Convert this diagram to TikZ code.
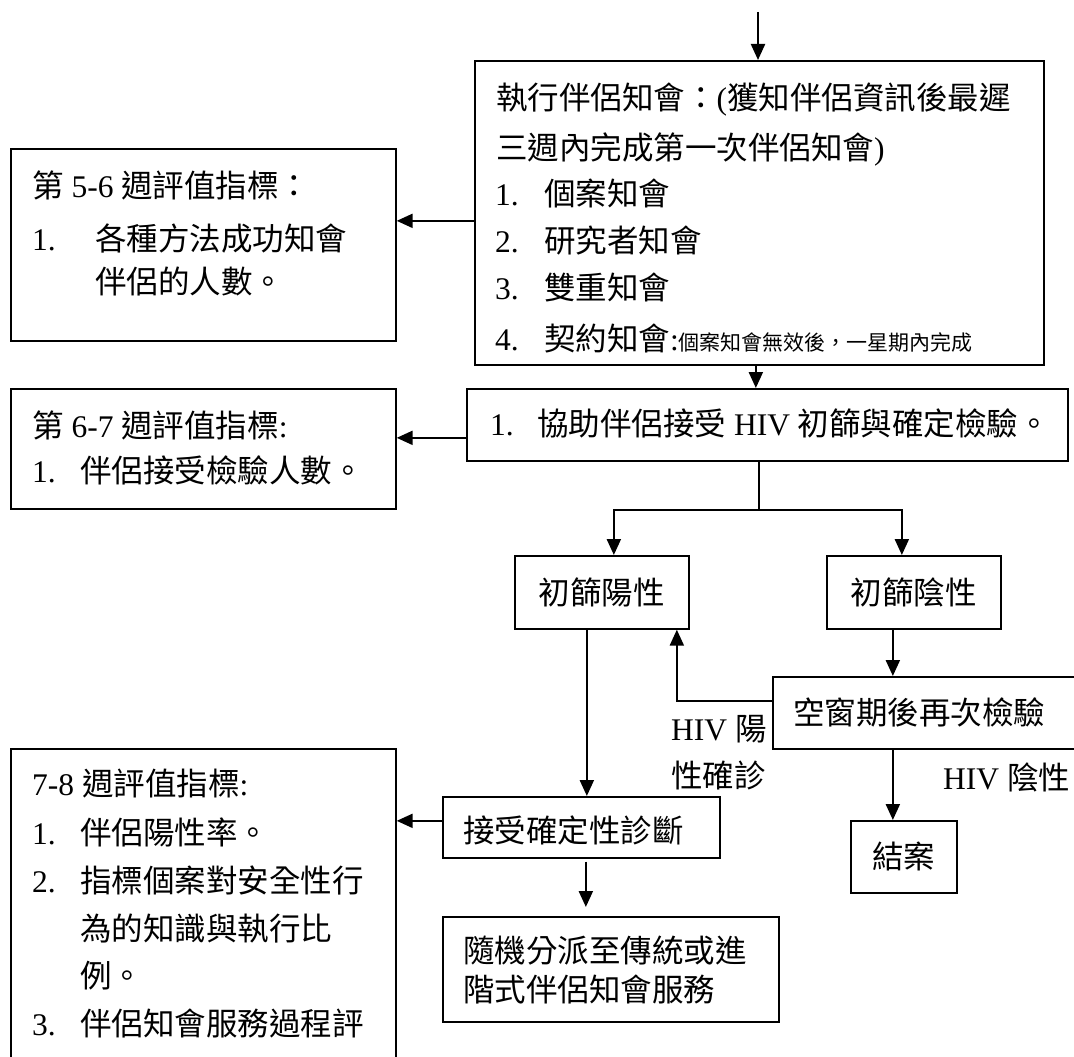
\documentclass[tikz,border=0pt]{standalone}
\usepackage{fontspec}
\setmainfont{Liberation Serif}
\newfontfamily\cjkfont{Noto Sans CJK TC}
\usetikzlibrary{arrows.meta}
\newcommand\lat[1]{{\rmfamily #1}}
\newcommand\itemno[2]{\makebox[#1][l]{\rmfamily #2}}
\begin{document}
\begin{tikzpicture}[x=1pt,y=-1pt,
  box/.style={draw=black,line width=1.7pt,inner sep=0pt,anchor=north west,
    font=\cjkfont\fontsize{31.5}{36}\selectfont},
  txt/.style={inner sep=0pt,anchor=base west,font=\cjkfont\fontsize{31.5}{36}\selectfont},
  arr/.style={line width=2.2pt,-{Triangle[length=16pt,width=14pt]}},
  link/.style={line width=1.3pt}]
\useasboundingbox (0,0) rectangle (1074,1057);
\fill[white] (0,0) rectangle (1074,1057);
\clip (0,0) rectangle (1074,1057);

% boxes
\node[box,minimum width=569pt,minimum height=304pt] (b1) at (474,60) {};
\node[box,minimum width=601pt,minimum height=72pt] (b2) at (466,388) {};
\node[box,minimum width=385pt,minimum height=192pt] (L1) at (10,148) {};
\node[box,minimum width=385pt,minimum height=120pt] (L2) at (10,388) {};
\node[box,minimum width=385pt,minimum height=340pt] (L3) at (10,748) {};
\node[box,minimum width=174pt,minimum height=73pt] (pos) at (514,555) {初篩陽性};
\node[box,minimum width=174pt,minimum height=73pt] (neg) at (826,555) {初篩陰性};
\node[box,minimum width=318pt,minimum height=72pt] (win) at (772,676) {};
\node[box,minimum width=106pt,minimum height=72pt] (close) at (850,820) {結案};
\node[box,minimum width=277pt,minimum height=61pt] (acc) at (442,796) {};
\node[box,minimum width=336pt,minimum height=105pt] (rand) at (442,916) {};

% texts in box 1
\node[txt] (t1a) at (496,110) {執行伴侶知會：\lat{(}獲知伴侶資訊後最遲};
\node[txt] (t1b) at (496,159) {三週內完成第一次伴侶知會\lat{)}};
\node[txt] (t1c) at (495,205) {\itemno{49pt}{1.}個案知會};
\node[txt] (t1d) at (495,252) {\itemno{49pt}{2.}研究者知會};
\node[txt] (t1e) at (495,299) {\itemno{49pt}{3.}雙重知會};
\node[txt] (t1f) at (495,350) {\itemno{49pt}{4.}契約知會\lat{:}{\fontsize{21}{24}\selectfont 個案知會無效後，一星期內完成}};
% box 2
\node[txt] (t2) at (490,435) {\itemno{47pt}{1.}協助伴侶接受\lat{\ HIV\ }初篩與確定檢驗。};
% left boxes
\node[txt] (tL1a) at (32,197) {第\lat{\ 5-6\ }週評值指標：};
\node[txt] (tL1b) at (32,250) {\itemno{63pt}{1.}各種方法成功知會};
\node[txt] (tL1c) at (95,293) {伴侶的人數。};
\node[txt] (tL2a) at (32,437) {第\lat{\ 6-7\ }週評值指標\lat{:}};
\node[txt] (tL2b) at (32,482) {\itemno{48pt}{1.}伴侶接受檢驗人數。};
\node[txt] (tL3a) at (32,795) {\lat{7-8\ }週評值指標\lat{:}};
\node[txt] (tL3b) at (32,844) {\itemno{48pt}{1.}伴侶陽性率。};
\node[txt] (tL3c) at (32,892) {\itemno{48pt}{2.}指標個案對安全性行};
\node[txt] (tL3d) at (80,940) {為的知識與執行比};
\node[txt] (tL3e) at (80,987) {例。};
\node[txt] (tL3f) at (32,1035) {\itemno{48pt}{3.}伴侶知會服務過程評};
% other boxes
\node[txt] (twin) at (793,724) {空窗期後再次檢驗};
\node[txt] (tacc) at (463,842) {接受確定性診斷};
\node[txt] (trand1) at (463,962) {隨機分派至傳統或進};
\node[txt] (trand2) at (463,1001) {階式伴侶知會服務};
% labels
\node[txt] (lpos1) at (671,740) {\lat{HIV\ }陽};
\node[txt] (lpos2) at (671,787) {性確診};
\node[txt] (lneg) at (943,789) {\lat{HIV\ }陰性};

% connectors
\coordinate (entry) at (758,12);
\draw[arr] (entry) -- (entry |- b1.north);
\coordinate (a12) at ([xshift=-3.5pt]b1.south);
\draw[arr] (a12) -- (a12 |- b2.north);
\coordinate (a1L) at ([yshift=-8pt]b1.west);
\draw[arr] (a1L) -- (a1L -| L1.east);
\coordinate (a2L) at ([yshift=-13pt]b2.west);
\draw[arr] (a2L) -- (a2L -| L2.east);
\coordinate (split) at ([xshift=-8.5pt]b2.south);
\coordinate (fork) at ([yshift=-48pt]split);
\draw[link] (split) -- (fork);
\coordinate (posin) at ([xshift=12pt]pos.north);
\coordinate (negin) at ([xshift=-12pt]neg.north);
\draw[arr] (fork) -| (posin);
\draw[arr] (fork) -| (negin);
\coordinate (nw) at ([xshift=-21pt]neg.south);
\draw[arr] (nw) -- (nw |- win.north);
\coordinate (wp) at ([yshift=12pt]win.west);
\coordinate (pin) at ([xshift=75pt]pos.south);
\draw[arr] (wp) -| (pin);
\coordinate (pa) at ([xshift=-15pt]pos.south);
\draw[arr] (pa) -- (pa |- acc.north);
\coordinate (aL) at ([yshift=6.5pt]acc.west);
\draw[arr] (aL) -- (aL -| L3.east);
\coordinate (ar) at ([xshift=4.5pt,yshift=-3pt]acc.south);
\coordinate (ar2) at ([yshift=9pt]rand.north);
\draw[arr] (ar) -- (ar |- ar2);
\coordinate (cin) at ([xshift=-11pt]close.north);
\draw[arr] (win.south -| cin) -- (cin);
\end{tikzpicture}
\end{document}
